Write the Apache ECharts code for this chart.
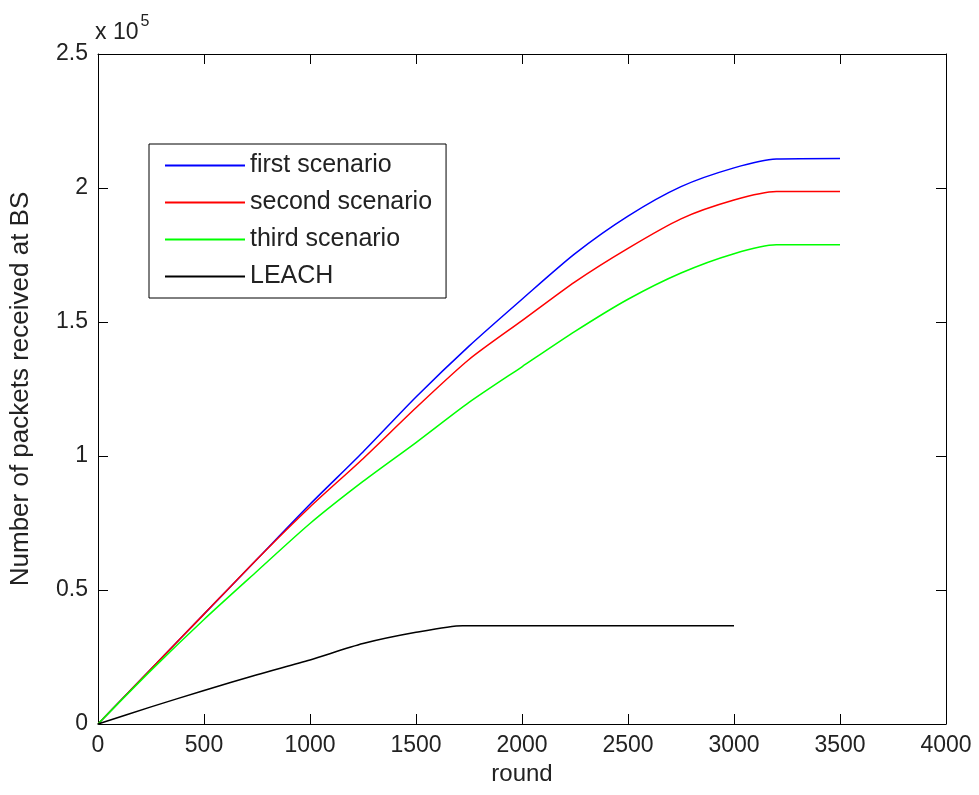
<!DOCTYPE html>
<html lang="en">
<head>
    <meta charset="UTF-8">
    <title>Number of packets received at BS</title>
    <script src="https://cdn.jsdelivr.net/npm/echarts@6/dist/echarts.min.js"></script>
    <style>
        html, body { margin: 0; padding: 0; background: #fff; }
        #chart { width: 979px; height: 795px; }
    </style>
</head>
<body>
<div id="chart"></div>
<script>
    'use strict';
    // values, y in units of 10^5 packets
    let rounds = [0, 250, 500, 750, 1000, 1250, 1500, 1750, 2000, 2250, 2500, 2750, 3000, 3200, 3500];
    let firstScenario  = [0, 0.205, 0.41, 0.615, 0.82, 1.015, 1.22, 1.41, 1.585, 1.755, 1.895, 2.005, 2.075, 2.108, 2.11];
    let secondScenario = [0, 0.205, 0.41, 0.615, 0.81, 0.99, 1.18, 1.36, 1.505, 1.65, 1.775, 1.885, 1.955, 1.987, 1.987];
    let thirdScenario  = [0, 0.20, 0.39, 0.57, 0.748, 0.905, 1.05, 1.20, 1.333, 1.465, 1.585, 1.683, 1.755, 1.788, 1.788];
    let leachRounds = [0, 250, 500, 750, 1000, 1250, 1500, 1720, 2000, 2500, 3000];
    let leach       = [0, 0.064, 0.125, 0.184, 0.239, 0.30, 0.342, 0.367, 0.367, 0.367, 0.367];

    let xTicks = { min: 0, max: 4000, interval: 500 };
    let yTicks = { min: 0, max: 2.5, interval: 0.5 };

    let fontFamily = '"Liberation Sans", Arial, sans-serif';
    let textColor = '#222';

    function pairs(xs, ys) {
        return xs.map(function (x, i) { return [x, ys[i]]; });
    }

    function lineSeries(name, data, color) {
        return {
            name: name,
            type: 'line',
            data: data,
            symbol: 'none',
            smooth: 0.25,
            lineStyle: { color: color, width: 1.5 },
            itemStyle: { color: color },
            animation: false
        };
    }

    let axisLine = { show: true, onZero: false, lineStyle: { color: '#000', width: 1 } };
    let axisTick = { show: true, inside: true, length: 10, lineStyle: { color: '#000', width: 1 } };
    let label = {
        color: textColor, fontSize: 23, fontFamily: fontFamily,
        formatter: function (v) { return String(v); }
    };

    let option = {
        backgroundColor: '#fff',
        grid: { left: 95, right: 33, top: 54, bottom: 71, containLabel: false },
        legend: {
            orient: 'vertical',
            left: 149,
            top: 144,
            padding: [9, 14, 9, 16],
            icon: 'rect',
            itemWidth: 80,
            itemHeight: 2,
            itemGap: 12,
            borderColor: '#000',
            borderWidth: 1,
            textStyle: { color: textColor, fontSize: 25, fontFamily: fontFamily, lineHeight: 25 },
            data: ['first scenario', 'second scenario', 'third scenario', 'LEACH']
        },
        xAxis: [{
            type: 'value',
            position: 'bottom',
            min: xTicks.min, max: xTicks.max, interval: xTicks.interval,
            axisLine: axisLine, axisTick: axisTick,
            splitLine: { show: false },
            axisLabel: Object.assign({ margin: 10 }, label),
            name: 'round',
            nameLocation: 'middle',
            nameGap: 37,
            nameTextStyle: { color: textColor, fontSize: 24, fontFamily: fontFamily }
        }, {
            type: 'value',
            position: 'top',
            min: xTicks.min, max: xTicks.max, interval: xTicks.interval,
            axisLine: axisLine, axisTick: axisTick,
            splitLine: { show: false },
            axisLabel: { show: false }
        }],
        yAxis: [{
            type: 'value',
            position: 'left',
            min: yTicks.min, max: yTicks.max, interval: yTicks.interval,
            axisLine: axisLine, axisTick: axisTick,
            splitLine: { show: false },
            axisLabel: Object.assign({ margin: 10 }, label),
            name: 'Number of packets received at BS',
            nameLocation: 'middle',
            nameGap: 64,
            nameTextStyle: { color: textColor, fontSize: 26, fontFamily: fontFamily }
        }, {
            type: 'value',
            position: 'right',
            min: yTicks.min, max: yTicks.max, interval: yTicks.interval,
            axisLine: axisLine, axisTick: axisTick,
            splitLine: { show: false },
            axisLabel: { show: false }
        }],
        graphic: [{
            type: 'text',
            left: 95,
            top: 14,
            style: {
                text: '{a|x 10}{s|5}',
                rich: {
                    a: { fontSize: 23, fontFamily: fontFamily, fill: textColor, padding: [10, 0, 0, 0] },
                    s: { fontSize: 16, fontFamily: fontFamily, fill: textColor, padding: [0, 0, 12, 2] }
                }
            }
        }],
        series: [
            lineSeries('first scenario', pairs(rounds, firstScenario), '#0000ff'),
            lineSeries('second scenario', pairs(rounds, secondScenario), '#ff0000'),
            lineSeries('third scenario', pairs(rounds, thirdScenario), '#00ff00'),
            lineSeries('LEACH', pairs(leachRounds, leach), '#000000')
        ],
        animation: false
    };

    let myChart = echarts.init(document.getElementById('chart'));
    myChart.setOption(option);
</script>
</body>
</html>
